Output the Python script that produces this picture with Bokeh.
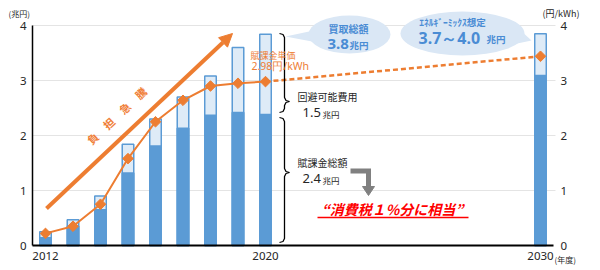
import numpy as np
from bokeh.plotting import figure
from bokeh.models import Range1d, LinearAxis, FixedTicker, Arrow, NormalHead
from bokeh.core.properties import value
from bokeh.embed import file_html
from bokeh.resources import INLINE

# ---- data ----
years = [2012, 2013, 2014, 2015, 2016, 2017, 2018, 2019, 2020, 2030]
purchase_total = [0.25, 0.47, 0.90, 1.84, 2.30, 2.70, 3.08, 3.60, 3.84, 3.85]   # 買取総額 (兆円)
levy_total = [0.14, 0.35, 0.65, 1.32, 1.81, 2.13, 2.37, 2.42, 2.38, 3.09]       # 賦課金総額 (兆円)
unit_price = [0.22, 0.35, 0.75, 1.58, 2.25, 2.64, 2.90, 2.95, 2.98, 3.44]       # 賦課金単価 (円/kWh)
x_ticks = [2012, 2020, 2030]
y_ticks = [0, 1, 2, 3, 4]

JP = "Noto Sans CJK JP"
LAT = "Noto Sans"
BLUE = "#5B9BD5"
LIGHT = "#DEEBF7"
OR = "#ED7D31"
TXT = "#262626"

# pixel -> data helpers for annotation placement (frame = whole canvas)
PXY = 27.5
PUN = 55.0
X0 = 2012 - 13 / PXY
def dx(px):
    return X0 + (px - 32) / PXY
def dy(py):
    return (245 - py) / PUN

p = figure(width=600, height=270, output_backend="svg", toolbar_location=None,
           x_range=Range1d(dx(0), dx(600)), y_range=Range1d(dy(270), dy(0)),
           x_axis_location=None, y_axis_location=None,
           min_border_left=0, min_border_right=0, min_border_top=0, min_border_bottom=0)
p.outline_line_color = None
p.background_fill_color = "white"
p.border_fill_color = "white"
p.xgrid.grid_line_color = None
p.ygrid.grid_line_color = None

def style_axis(ax, standoff):
    ax.major_tick_line_color = None
    ax.minor_tick_line_color = None
    ax.major_tick_out = 0
    ax.major_tick_in = 0
    ax.minor_tick_out = 0
    ax.minor_tick_in = 0
    ax.major_label_standoff = standoff
    ax.major_label_text_font = LAT
    ax.major_label_text_font_size = "11.5px"
    ax.major_label_text_color = TXT

# gridlines (horizontal, between the two value axes)
grid_y = y_ticks[1:]
p.segment(x0=[dx(32)] * len(grid_y), x1=[dx(555)] * len(grid_y), y0=grid_y, y1=grid_y,
          line_color="#E4E4E4", line_width=1)

# axes, placed at fixed data locations inside the canvas-wide frame
ly = LinearAxis(ticker=FixedTicker(ticks=y_ticks), bounds=(0, 4), fixed_location=dx(32))
ly.axis_line_color = "black"
ly.axis_line_width = 1.5
style_axis(ly, 6)
p.add_layout(ly, "left")

ry = LinearAxis(ticker=FixedTicker(ticks=y_ticks), bounds=(0, 4), fixed_location=dx(555))
ry.axis_line_color = None
style_axis(ry, 5)
p.add_layout(ry, "right")

bx = LinearAxis(ticker=FixedTicker(ticks=x_ticks), bounds=(dx(32), dx(553)), fixed_location=0)
bx.axis_line_color = "black"
bx.axis_line_width = 2
style_axis(bx, 6)
p.add_layout(bx, "below")

# bars
p.vbar(x=years, width=0.42, top=purchase_total, bottom=0, fill_color=LIGHT,
       line_color=BLUE, line_width=1.5)
p.vbar(x=years, width=0.42, top=levy_total, bottom=0, fill_color=BLUE,
       line_color=BLUE, line_width=1.5)

# big arrow
p.add_layout(Arrow(end=NormalHead(size=13, fill_color=OR, line_color=OR),
                   x_start=dx(46), y_start=dy(208), x_end=dx(232), y_end=dy(33),
                   line_color=OR, line_width=4))
p.text(x=[dx(116)], y=[dy(115)], text=["負　担　急　騰"], angle=0.756,
       text_font=value(JP), text_font_size="11px", text_font_style="bold",
       text_color="#F07F3A", text_align="center", text_baseline="middle")

# unit price line
p.line(years[:9], unit_price[:9], line_color=OR, line_width=2)
p.line(years[8:], unit_price[8:], line_color=OR, line_width=2.5, line_dash="5 3")
p.scatter(years, unit_price, marker="square", angle=np.pi / 4, size=7.5,
          fill_color=OR, line_color=OR)

# braces
def brace(x0, yt, yb, ytip, d=5):
    pts = [(x0 - d, yt), (x0 - 1.5, yt + 1), (x0, yt + 4), (x0, ytip - 4),
           (x0 + 1.5, ytip - 1), (x0 + d, ytip), (x0 + 1.5, ytip + 1), (x0, ytip + 4),
           (x0, yb - 4), (x0 - 1.5, yb - 1), (x0 - d, yb)]
    p.line([dx(a) for a, b in pts], [dy(b) for a, b in pts], line_color="black", line_width=1.3)

brace(284, 33, 112, 101)
brace(284, 117, 242, 172)

# bubbles
BUB = "#DAE7F5"
BTX = "#4A8CD4"
p.patch([dx(285), dx(318), dx(322)], [dy(36), dy(29), dy(43)], fill_color=BUB, line_color=None)
p.ellipse(x=[dx(349)], y=[dy(34)], width=82, height=38, width_units="screen",
          height_units="screen", fill_color=BUB, line_color=None)
p.patch([dx(531), dx(512), dx(518)], [dy(40), dy(44), dy(28)], fill_color=BUB, line_color=None)
p.ellipse(x=[dx(462)], y=[dy(33)], width=124, height=44, width_units="screen",
          height_units="screen", fill_color=BUB, line_color=None)

def txt(px, py, s, size, color=TXT, style="normal", align="left", font=JP):
    p.text(x=[dx(px)], y=[dy(py)], text=[s], text_font=value(font), text_font_size=size,
           text_font_style=style, text_color=color, text_align=align, text_baseline="middle")

txt(348, 27.5, "買取総額", "10px", BTX, "bold", "center")
txt(327, 43, "3.8", "15px", BTX, "bold", "left", LAT)
txt(349, 44, "兆円", "9.5px", BTX, "bold")
txt(452, 21.5, "ｴﾈﾙｷﾞｰﾐｯｸｽ想定", "9.5px", BTX, "bold", "center")
txt(418, 37.5, "3.7～4.0", "16px", BTX, "bold", "left", LAT)
txt(486, 38.5, "兆円", "9.5px", BTX, "bold")

# labels
OL = "#EE7E36"
txt(250, 54.5, "賦課金単価", "9px", OL)
txt(251, 65, "2.98円/kWh", "10.5px", OL, "normal", "left", LAT)
txt(297, 95.5, "回避可能費用", "10px")
txt(302, 112, "1.5", "13px", TXT, "normal", "left", LAT)
txt(322, 113, "兆円", "8.5px")
txt(297, 162, "賦課金総額", "10px")
txt(302, 178, "2.4", "13px", TXT, "normal", "left", LAT)
txt(322, 179, "兆円", "8.5px")

# gray bent arrow
GR = "#808080"
p.line([dx(350), dx(368), dx(368)], [dy(170.5), dy(170.5), dy(187)], line_color=GR,
       line_width=5, line_join="miter")
p.patch([dx(362), dx(374), dx(368)], [dy(186), dy(186), dy(195)], fill_color=GR, line_color=GR)

# red note
txt(392, 208, "“消費税１%分に相当”", "14px", "#FF0000", "bold italic", "center")
p.line([dx(317), dx(468)], [dy(217), dy(217)], line_color="#FF0000", line_width=1.5)

# unit labels
txt(8, 12.5, "(兆円)", "8px")
txt(542, 12.5, "(円/kWh)", "9px")
txt(554, 259, "(年度)", "8px")

open("out.html", "w").write(file_html(p, INLINE))
